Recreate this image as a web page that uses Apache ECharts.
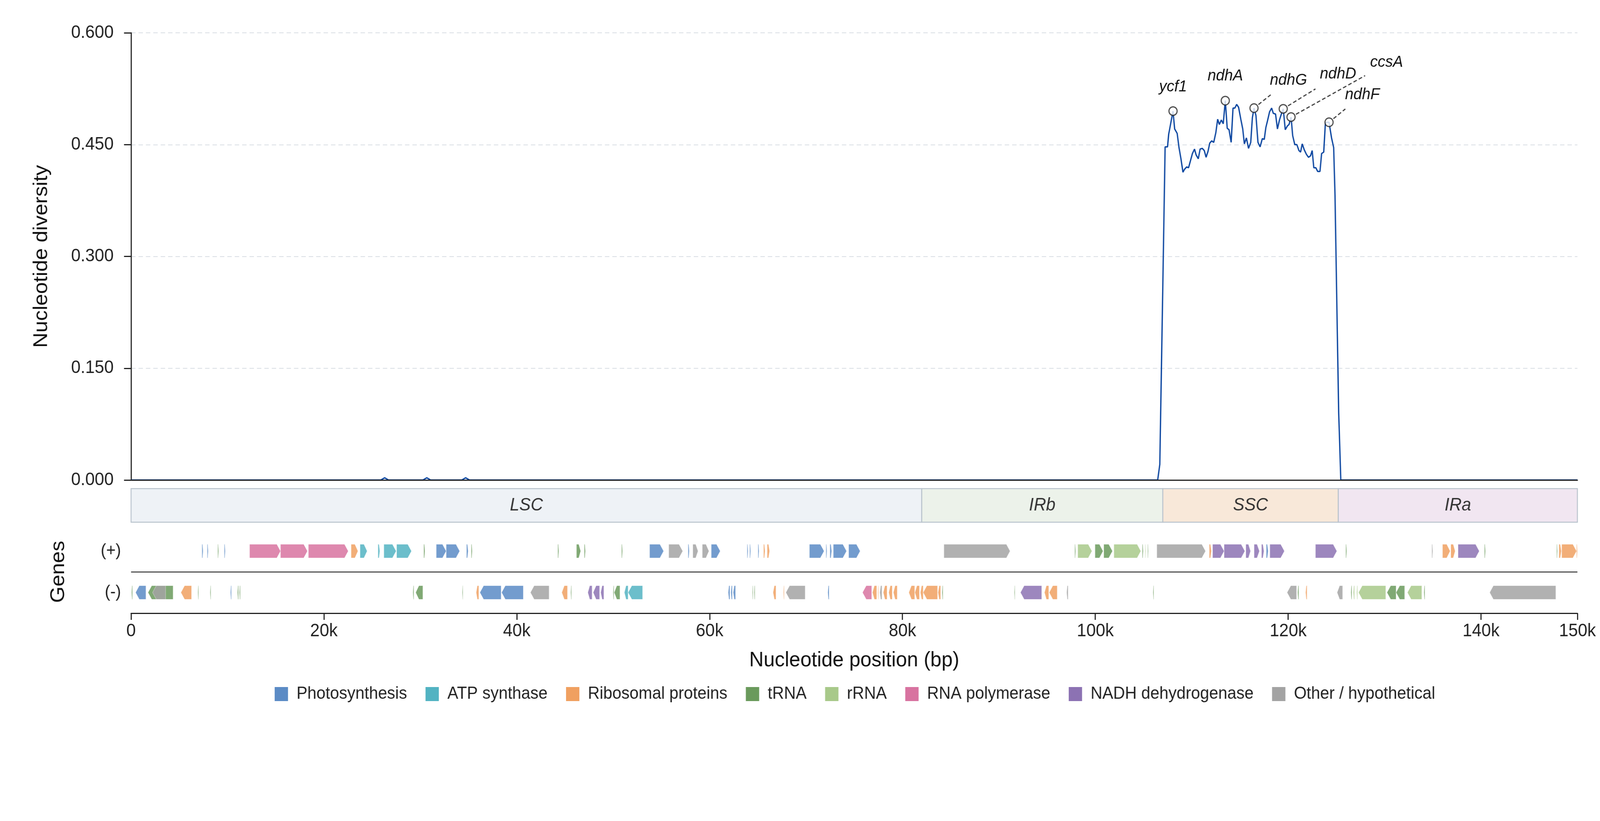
<!DOCTYPE html>
<html lang="en">
<head>
<meta charset="utf-8">
<title>Nucleotide diversity</title>
<script src="https://cdn.jsdelivr.net/npm/echarts@6.0.0/dist/echarts.min.js"></script>
<style>
html, body { margin: 0; padding: 0; width: 100%; height: 100%; background: #fff; overflow: hidden; }
#chart { position: absolute; left: 0; top: 0; width: 4322px; height: 2102px; transform-origin: 0 0; }
</style>
</head>
<body>
<div id="chart"></div>
<script>
// sliding-window positions (bp) and nucleotide diversity (pi)
var windowPos = [0, 25900, 26300, 26700, 30270, 30670, 31070, 34300, 34700, 35100,
  106470, 106690, 107240, 107490, 107610, 108060, 108230, 108490, 108680, 108870,
  109090, 109260, 109470, 109670, 109860, 110070, 110290, 110460, 110680, 110870,
  111090, 111300, 111490, 111690, 111870, 112070, 112280, 112500, 112690, 112860,
  113070, 113270, 113480, 113680, 113870, 114090, 114280, 114470, 114660, 114860,
  115090, 115290, 115460, 115670, 115890, 116120, 116290, 116460, 116660, 116870,
  117090, 117320, 117520, 117690, 117860, 118070, 118290, 118460, 118690, 118890,
  119100, 119320, 119490, 119700, 119920, 120090, 120300, 120470, 120690, 120900,
  121120, 121290, 121460, 121670, 121890, 122110, 122320, 122490, 122660, 122870,
  123060, 123300, 123470, 123690, 123860, 124050, 124240, 124500, 124720, 124860,
  125240, 125460, 150000];
var piValues = [0, 0, 0.003, 0, 0, 0.003, 0, 0, 0.003, 0,
  0, 0.021, 0.447, 0.447, 0.464, 0.495, 0.471, 0.465, 0.446, 0.432,
  0.413, 0.417, 0.420, 0.419, 0.428, 0.438, 0.444, 0.436, 0.431, 0.444,
  0.445, 0.442, 0.433, 0.441, 0.452, 0.455, 0.453, 0.466, 0.484, 0.477,
  0.483, 0.478, 0.509, 0.472, 0.470, 0.453, 0.499, 0.499, 0.504, 0.500,
  0.484, 0.471, 0.451, 0.459, 0.445, 0.453, 0.486, 0.499, 0.489, 0.453,
  0.447, 0.458, 0.457, 0.473, 0.482, 0.494, 0.499, 0.492, 0.491, 0.471,
  0.483, 0.492, 0.498, 0.470, 0.475, 0.477, 0.487, 0.462, 0.450, 0.450,
  0.442, 0.440, 0.451, 0.443, 0.437, 0.433, 0.435, 0.442, 0.419, 0.419,
  0.414, 0.414, 0.438, 0.440, 0.479, 0.480, 0.480, 0.459, 0.446, 0.382,
  0.090, 0, 0];

// labelled peaks
var peakGenes = ['ycf1', 'ndhA', 'ndhG', 'ndhD', 'ccsA', 'ndhF'];
var peakPos = [108060, 113480, 116460, 119490, 120300, 124240];
var peakPi = [0.495, 0.509, 0.499, 0.498, 0.487, 0.480];

// quadripartite regions
var regionNames = ['LSC', 'IRb', 'SSC', 'IRa'];
var regionBounds = [0, 82000, 107000, 125200, 150000];

var xTicks = [0, 20000, 40000, 60000, 80000, 100000, 120000, 140000, 150000];
var yTicks = [0, 0.15, 0.30, 0.45, 0.60];

// genes: [start, end, strand]
var photosynthesisGenes = [[7350, 7470, 1], [7900, 8000, 1], [9670, 9770, 1], [31650, 32680, 1], [32680, 34080, 1],
  [34790, 34960, 1], [53780, 55230, 1], [57770, 57890, 1], [60170, 61100, 1], [63890, 63990, 1], [64160, 64260, 1],
  [65020, 65120, 1], [70350, 71870, 1], [72070, 72170, 1], [72480, 72660, 1], [72830, 74200, 1], [74420, 75610, 1],
  [117730, 117930, 1],
  [470, 1540, -1], [10310, 10410, -1], [36180, 38380, -1], [38430, 40680, -1], [61930, 62100, -1], [62200, 62350, -1],
  [62450, 62690, -1], [72260, 72390, -1]];
var atpGenes = [[23750, 24480, 1], [25610, 25800, 1], [26220, 27490, 1], [27540, 29080, 1],
  [51160, 51550, -1], [51550, 53050, -1]];
var ribosomalGenes = [[22820, 23530, 1], [65600, 65750, 1], [65970, 66220, 1], [111820, 112040, 1], [136010, 136800, 1],
  [136870, 137320, 1], [148080, 148330, 1], [148370, 149910, 1], [149910, 150000, 1],
  [5170, 6270, -1], [35790, 36060, -1], [44670, 45260, -1], [66580, 66880, -1], [67660, 67740, -1], [76890, 77330, -1],
  [77450, 77520, -1], [78010, 78400, -1], [78580, 78940, -1], [79060, 79460, -1], [80660, 81270, -1], [81290, 81760, -1],
  [81860, 82150, -1], [82150, 83640, -1], [83690, 83960, -1], [94730, 95170, -1], [95220, 96050, -1], [121810, 121960, -1]];
var trnaGenes = [[8990, 9080, 1], [30360, 30480, 1], [35280, 35380, 1], [44260, 44360, 1], [46190, 46630, 1],
  [47000, 47120, 1], [50870, 50970, 1], [97870, 97960, 1], [99970, 100800, 1], [100880, 101780, 1], [104870, 104970, 1],
  [105430, 105500, 1], [125970, 126070, 1], [140360, 140460, 1], [147850, 147930, 1],
  [50, 150, -1], [1760, 4360, -1], [6930, 7000, -1], [8200, 8280, -1], [11040, 11140, -1], [11240, 11330, -1],
  [29230, 29330, -1], [29520, 30260, -1], [34350, 34420, -1], [45600, 45680, -1], [49990, 50080, -1], [50110, 50700, -1],
  [64430, 64500, -1], [64620, 64700, -1], [84110, 84200, -1], [91600, 91670, -1], [105990, 106070, -1],
  [120990, 121100, -1], [126510, 126610, -1], [130250, 131190, -1], [131190, 132080, -1], [134080, 134180, -1]];
var rrnaGenes = [[98180, 99650, 1], [101930, 104720, 1], [105160, 105230, 1],
  [126760, 126880, -1], [127110, 127200, -1], [127300, 130120, -1], [132370, 133860, -1]];
var rnaPolGenes = [[12290, 15500, 1], [15500, 18290, 1], [18390, 22520, 1],
  [75860, 76810, -1]];
var nadhGenes = [[112160, 113360, 1], [113360, 115510, 1], [115610, 116100, 1], [116470, 117020, 1], [117240, 117490, 1],
  [118100, 119610, 1], [122830, 125050, 1], [137620, 139820, 1],
  [47370, 47810, -1], [47930, 48590, -1], [48710, 49030, -1], [92240, 94440, -1]];
var otherGenes = [[55760, 57210, 1], [58260, 58800, 1], [59240, 59930, 1], [84300, 91160, 1], [106380, 111430, 1],
  [134900, 135000, 1],
  [2230, 3580, -1], [41420, 43350, -1], [67910, 69910, -1], [77650, 77870, -1], [97030, 97180, -1],
  [119890, 120870, -1], [125080, 125650, -1], [140900, 147760, -1]];

var categoryNames = ['Photosynthesis', 'ATP synthase', 'Ribosomal proteins', 'tRNA', 'rRNA',
  'RNA polymerase', 'NADH dehydrogenase', 'Other / hypothetical'];
var categoryGenes = [photosynthesisGenes, atpGenes, ribosomalGenes, trnaGenes, rrnaGenes,
  rnaPolGenes, nadhGenes, otherGenes];

// styling
var categoryColors = ['#5b8bc5', '#52b3c2', '#f0a060', '#6a9a5c', '#a8c98a', '#d873a0', '#8c72b3', '#a3a3a3'];
var regionFills = ['#eef2f6', '#ecf2ea', '#f8e8d9', '#f1e6f1'];
var calloutLayout = [
  { dx: 0, dy: -62 },
  { dx: 0, dy: -63 },
  { dx: 93, dy: -71, lx: 45, ly: -34 },
  { dx: 148, dy: -89, lx: 87, ly: -51 },
  { dx: 258, dy: -140, lx: 200, ly: -106 },
  { dx: 90, dy: -70, lx: 44, ly: -34 }
];
var FONT = '"Liberation Sans", Arial, sans-serif';
var INK = '#222';

// the page is drawn at 4322x2102 and fitted to whatever viewport we get
var box = document.getElementById('chart');
box.style.transform = 'scale(' + (window.innerWidth / 4322) + ',' + (window.innerHeight / 2102) + ')';
var chart = echarts.init(box, null, { width: 4322, height: 2102 });

function geneArrow(params, api) {
  var row = api.value(2);
  var p0 = api.coord([api.value(0), row]);
  var p1 = api.coord([api.value(1), row]);
  var half = 17.5;
  var w = p1[0] - p0[0];
  var head = Math.min(10, w * 0.45);
  var yc = p0[1];
  var pts;
  if (row > 2) {
    pts = [[p0[0], yc - half], [p1[0] - head, yc - half], [p1[0], yc], [p1[0] - head, yc + half], [p0[0], yc + half]];
  } else {
    pts = [[p1[0], yc - half], [p0[0] + head, yc - half], [p0[0], yc], [p0[0] + head, yc + half], [p1[0], yc + half]];
  }
  return {
    type: 'polygon',
    shape: { points: pts },
    style: { fill: api.visual('color'), opacity: 0.85, stroke: 'rgba(255,255,255,0.7)', lineWidth: 1 }
  };
}

function regionBox(params, api) {
  var i = params.dataIndex;
  var a = api.coord([api.value(0), 1]);
  var b = api.coord([api.value(1), 0]);
  return {
    type: 'group',
    children: [{
      type: 'rect',
      shape: { x: a[0], y: a[1], width: b[0] - a[0], height: b[1] - a[1] },
      style: { fill: regionFills[i], stroke: '#b8c2cc', lineWidth: 2.5 }
    }, {
      type: 'text',
      style: {
        text: regionNames[i], x: (a[0] + b[0]) / 2, y: (a[1] + b[1]) / 2,
        align: 'center', verticalAlign: 'middle', fill: '#333',
        font: 'italic 46px ' + FONT
      }
    }]
  };
}

function callout(params, api) {
  var i = params.dataIndex;
  var c = api.coord([api.value(0), api.value(1)]);
  var lay = calloutLayout[i];
  var kids = [{
    type: 'text',
    style: {
      text: peakGenes[i], x: c[0] + lay.dx, y: c[1] + lay.dy,
      align: 'center', verticalAlign: 'middle', fill: '#111',
      font: 'italic 41px ' + FONT
    }
  }];
  if (lay.lx != null) {
    var len = Math.sqrt(lay.lx * lay.lx + lay.ly * lay.ly);
    kids.push({
      type: 'line',
      shape: {
        x1: c[0] + lay.lx / len * 15, y1: c[1] + lay.ly / len * 15,
        x2: c[0] + lay.lx, y2: c[1] + lay.ly
      },
      style: { stroke: '#444', lineWidth: 3, lineDash: [10, 6] }
    });
  }
  return { type: 'group', children: kids };
}

var series = [{
  type: 'line',
  xAxisIndex: 0, yAxisIndex: 0,
  data: windowPos.map(function (p, i) { return [p, piValues[i]]; }),
  showSymbol: false,
  lineStyle: { color: '#0d47a1', width: 3.5 },
  itemStyle: { color: '#0d47a1' },
  z: 3,
  silent: true
}, {
  type: 'scatter',
  xAxisIndex: 0, yAxisIndex: 0,
  data: peakPos.map(function (p, i) { return [p, peakPi[i]]; }),
  symbol: 'circle',
  symbolSize: 22,
  itemStyle: { color: '#fff', borderColor: '#222', borderWidth: 3 },
  z: 4,
  silent: true
}, {
  type: 'custom',
  xAxisIndex: 0, yAxisIndex: 0,
  data: peakPos.map(function (p, i) { return [p, peakPi[i]]; }),
  renderItem: callout,
  z: 5,
  silent: true
}, {
  type: 'custom',
  xAxisIndex: 1, yAxisIndex: 1,
  data: regionNames.map(function (n, i) { return [regionBounds[i], regionBounds[i + 1]]; }),
  encode: { x: [0, 1] },
  renderItem: regionBox,
  silent: true
}];

categoryNames.forEach(function (name, k) {
  var s = {
    type: 'custom',
    name: name,
    xAxisIndex: 2, yAxisIndex: 2,
    itemStyle: { color: categoryColors[k] },
    encode: { x: [0, 1], y: 2 },
    data: categoryGenes[k].map(function (g) { return [g[0], g[1], g[2] > 0 ? 3 : 1]; }),
    renderItem: geneArrow,
    silent: true
  };
  if (k === 0) {
    s.markLine = {
      silent: true, symbol: 'none', label: { show: false },
      lineStyle: { color: '#333', width: 2.5, type: 'solid' },
      data: [{ yAxis: 2 }]
    };
  }
  series.push(s);
});

var option = {
  backgroundColor: '#fff',
  animation: false,
  textStyle: { fontFamily: FONT },
  grid: [
    { left: 354, right: 61, top: 84, height: 1145 },
    { left: 354, right: 61, top: 1251, height: 86 },
    { left: 354, right: 61, top: 1358, height: 212 }
  ],
  xAxis: [{
    gridIndex: 0, type: 'value', min: 0, max: 150000, interval: 20000,
    axisLine: { lineStyle: { color: INK, width: 3 } },
    axisTick: { show: false }, axisLabel: { show: false }, splitLine: { show: false },
    z: 10
  }, {
    gridIndex: 1, type: 'value', min: 0, max: 150000, show: false
  }, {
    gridIndex: 2, type: 'value', min: 0, max: 150000, interval: 20000,
    name: 'Nucleotide position (bp)', nameLocation: 'middle', nameGap: 94,
    nameTextStyle: { fontSize: 54, color: '#111' },
    axisLine: { onZero: false, lineStyle: { color: INK, width: 3 } },
    axisTick: { length: 17, lineStyle: { color: INK, width: 3 } },
    axisLabel: {
      fontSize: 46, color: INK, margin: 23,
      formatter: function (v) { return xTicks.indexOf(v) < 0 ? '' : (v === 0 ? '0' : (v / 1000) + 'k'); }
    },
    splitLine: { show: false }
  }],
  yAxis: [{
    gridIndex: 0, type: 'value', min: yTicks[0], max: yTicks[yTicks.length - 1], interval: 0.15,
    name: 'Nucleotide diversity', nameLocation: 'middle', nameGap: 215,
    nameTextStyle: { fontSize: 54, color: '#111' },
    axisLine: { show: true, lineStyle: { color: INK, width: 3 } },
    axisTick: { show: true, length: 19, lineStyle: { color: INK, width: 3 } },
    axisLabel: { fontSize: 46, color: INK, margin: 47, formatter: function (v) { return v.toFixed(3); } },
    splitLine: { show: true, lineStyle: { color: '#d9dee4', width: 2, type: [12, 8] } }
  }, {
    gridIndex: 1, type: 'value', min: 0, max: 1, show: false
  }, {
    gridIndex: 2, type: 'value', min: 0, max: 4, interval: 1,
    name: 'Genes', nameLocation: 'middle', nameGap: 169,
    nameTextStyle: { fontSize: 54, color: '#111' },
    axisLine: { show: false }, axisTick: { show: false }, splitLine: { show: false },
    axisLabel: {
      fontSize: 44, color: INK, margin: 27,
      formatter: function (v) { return v === 3 ? '(+)' : (v === 1 ? '(-)' : ''); }
    }
  }],
  legend: {
    data: categoryNames,
    left: 737, top: 1750,
    icon: 'rect', itemWidth: 36, itemHeight: 36, itemGap: 50,
    itemStyle: { opacity: 1 },
    textStyle: { fontSize: 44, color: INK, padding: [0, 0, 0, 18] },
    selectedMode: false
  },
  series: series
};

chart.setOption(option);
</script>
</body>
</html>
